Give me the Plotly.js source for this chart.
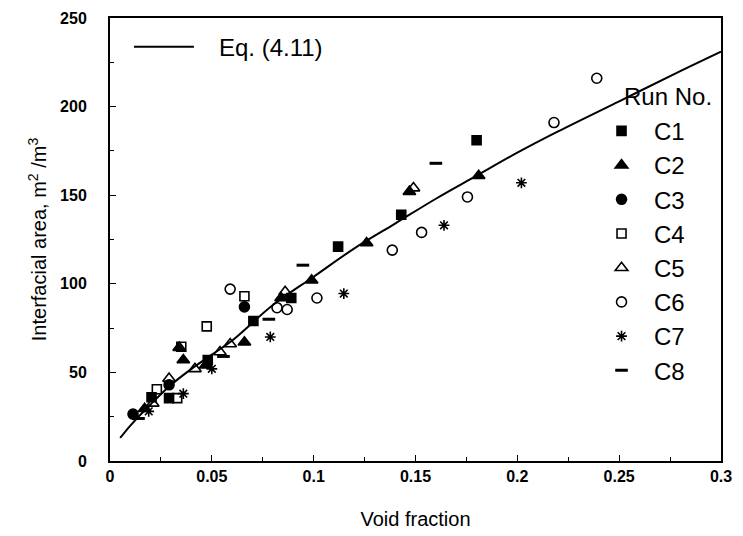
<!DOCTYPE html>
<html>
<head>
<meta charset="utf-8">
<script src="https://cdn.plot.ly/plotly-3.0.1.min.js"></script>
<style>html,body{margin:0;padding:0;background:#fff;} #chart{width:743px;height:536px;}</style>
</head>
<body>
<div id="chart"></div>
<script>
// Eq. (4.11) curve
const eqX = [0.005,0.01,0.02,0.03,0.04,0.05,0.06,0.08,0.1,0.12,0.14,0.16,0.18,0.2,0.22,0.25,0.28,0.3];
const eqY = [13,20,32,43,52,60,68,88,104,120,134,148,161,174,186,203,220,231];

// Run data (void fraction, interfacial area)
const c1X = [0.0204,0.029,0.048,0.0704,0.089,0.112,0.143,0.18];
const c1Y = [36,35.5,57,79,92,121,139,181];
const c2X = [0.017,0.034,0.036,0.047,0.066,0.084,0.099,0.126,0.147,0.181];
const c2Y = [29.5,64,57,54,67,92,102,123,152,161];
const c3X = [0.0113,0.029,0.066];
const c3Y = [26.5,43,87];
const c4X = [0.023,0.033,0.035,0.0475,0.066];
const c4Y = [40.5,35.5,64.5,76,93];
const c5X = [0.021,0.029,0.0417,0.054,0.059,0.086,0.149];
const c5Y = [32.5,46.5,52,61.5,66,95.5,154];
const c6X = [0.059,0.082,0.087,0.1016,0.1386,0.153,0.1755,0.218,0.239];
const c6Y = [97,86.5,85.5,92,119,129,149,191,216];
const c7X = [0.019,0.036,0.05,0.0787,0.1148,0.164,0.202];
const c7Y = [28,38,52,70,94.5,133,157];
const c8X = [0.014,0.0557,0.078,0.0947,0.16];
const c8Y = [24,59,80,110.5,168];

const runNames = ['C1','C2','C3','C4','C5','C6','C7','C8'];
const xTicks = [0,0.05,0.1,0.15,0.2,0.25,0.3];
const xTickText = ['0','0.05','0.1','0.15','0.2','0.25','0.3'];
const yTicks = [0,50,100,150,200,250];

const runs = [
  {x:c1X,y:c1Y,sym:'square',size:9},
  {x:c2X,y:c2Y,sym:'triangle-up',size:11},
  {x:c3X,y:c3Y,sym:'circle',size:10},
  {x:c4X,y:c4Y,sym:'square-open',size:9},
  {x:c5X,y:c5Y,sym:'triangle-up-open',size:11},
  {x:c6X,y:c6Y,sym:'circle-open',size:10},
  {x:c7X,y:c7Y,sym:'asterisk-open',size:9},
  {x:c8X,y:c8Y,sym:'line-ew-open',size:9}
];

const traces = [{
  x: eqX, y: eqY, mode:'lines', name:'\u00A0\u00A0\u00A0Eq. (4.11)',
  line:{color:'#000', width:2, shape:'spline'}, legend:'legend2'
}];
runs.forEach((r,i)=>{
  traces.push({
    x:r.x, y:r.y, mode:'markers', name:runNames[i], legend:'legend',
    marker:{symbol:r.sym, size:r.size, color:'#000',
      line:{color:'#000', width:(r.sym==='line-ew-open'?3:1.6)}}
  });
});

const layout = {
  width:743, height:536,
  margin:{l:110, r:22, t:18, b:75},
  paper_bgcolor:'#fff', plot_bgcolor:'#fff',
  font:{family:'Liberation Sans, Arial, sans-serif', color:'#000'},
  showlegend:true,
  xaxis:{
    range:[0,0.3], tickvals:xTicks, ticktext:xTickText,
    ticks:'inside', ticklen:6, tickwidth:1, tickcolor:'#000',
    minor:{dtick:0.025, ticks:'inside', ticklen:4, tickcolor:'#000'},
    showline:true, linecolor:'#000', linewidth:2, mirror:true,
    showgrid:false, zeroline:false,
    tickfont:{size:16, weight:'bold'},
    title:{text:'Void fraction', font:{size:20}, standoff:28}
  },
  yaxis:{
    range:[0,250], tickvals:yTicks,
    ticks:'inside', ticklen:6, tickwidth:1, tickcolor:'#000',
    minor:{dtick:25, ticks:'inside', ticklen:4, tickcolor:'#000'},
    showline:true, linecolor:'#000', linewidth:2, mirror:true,
    showgrid:false, zeroline:false,
    tickfont:{size:16, weight:'bold'},
    ticklabelstandoff:18,
    title:{text:'Interfacial area, m<sup>2</sup> /m<sup>3</sup>', font:{size:20}, standoff:8}
  },
  annotations:[{
    text:'Run No.', xref:'paper', yref:'paper',
    x:(622-110)/611, y:(461-96)/443, xanchor:'left', yanchor:'middle',
    showarrow:false, font:{size:24}
  }],
  legend:{
    x:0.784, y:0.795, xanchor:'left', yanchor:'top',
    bgcolor:'rgba(0,0,0,0)', borderwidth:0,
    font:{size:24}, tracegroupgap:0, itemwidth:55
  },
  legend2:{
    x:0.031, y:0.985, xanchor:'left', yanchor:'top',
    bgcolor:'rgba(0,0,0,0)', borderwidth:0,
    font:{size:24}, itemwidth:60
  }
};

Plotly.newPlot('chart', traces, layout, {displayModeBar:false, staticPlot:true});
</script>
</body>
</html>
